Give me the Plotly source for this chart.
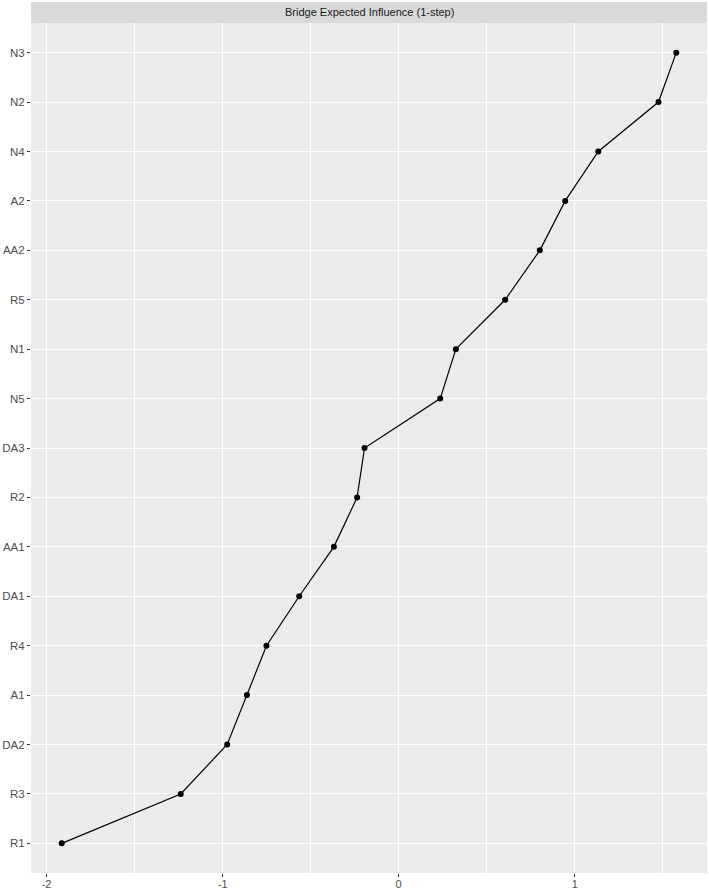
import plotly.graph_objects as go

nodes = ["R1", "R3", "DA2", "A1", "R4", "DA1", "AA1", "R2", "DA3",
         "N5", "N1", "R5", "AA2", "A2", "N4", "N2", "N3"]
values = [-1.914, -1.238, -0.974, -0.862, -0.751, -0.565, -0.368, -0.236, -0.194,
          0.236, 0.325, 0.605, 0.802, 0.946, 1.134, 1.476, 1.577]
x_ticks = [-2, -1, 0, 1]
x_tick_labels = ["-2", "-1", "0", "1"]
strip_title = "Bridge Expected Influence (1-step)"

W, H = 709, 890
ml, mr, mt, mb = 31, 2, 23, 17
plot_h = H - mt - mb

fig = go.Figure()
fig.add_trace(go.Scatter(
    x=values, y=nodes, mode="lines+markers",
    line=dict(color="black", width=1.2),
    marker=dict(color="black", size=6),
    showlegend=False,
))

lo, hi = min(values), max(values)
pad = (hi - lo) * 0.05

fig.update_layout(
    width=W, height=H,
    margin=dict(l=ml, r=mr, t=mt, b=mb, autoexpand=False),
    paper_bgcolor="white",
    plot_bgcolor="#EBEBEB",
    font=dict(family="Liberation Sans, Arial, sans-serif", size=12, color="#4D4D4D"),
    xaxis=dict(
        range=[lo - pad, hi + pad],
        tickvals=x_ticks, ticktext=x_tick_labels,
        showgrid=True, gridcolor="white", gridwidth=1.1,
        zeroline=False, showline=False, automargin=False,
        ticks="outside", ticklen=3, tickcolor="#333333", tickwidth=1,
        ticklabelstandoff=-2,
        tickfont=dict(size=11, color="#4D4D4D"),
        minor=dict(dtick=0.5, tick0=0, showgrid=True, gridcolor="white", gridwidth=0.5, ticks=""),
    ),
    yaxis=dict(
        type="category", categoryorder="array", categoryarray=nodes,
        range=[-0.6, len(nodes) - 1 + 0.6],
        showgrid=True, gridcolor="white", gridwidth=1.1,
        zeroline=False, showline=False, automargin=False,
        ticks="outside", ticklen=3, tickcolor="#333333", tickwidth=1,
        tickfont=dict(size=11.5, color="#4D4D4D"),
    ),
)

strip_h = 21 / plot_h
fig.add_shape(type="rect", xref="paper", yref="paper",
              x0=0, x1=1, y0=1, y1=1 + strip_h,
              fillcolor="#D9D9D9", line=dict(width=0), layer="below")
fig.add_annotation(xref="paper", yref="paper", x=0.5, y=1 + strip_h / 2,
                   text=strip_title, showarrow=False,
                   font=dict(size=11, color="#1A1A1A"),
                   xanchor="center", yanchor="middle")

fig.write_html("out.html", config={"displayModeBar": False},
               post_script="document.body.style.margin='0';document.body.style.overflow='hidden';")
